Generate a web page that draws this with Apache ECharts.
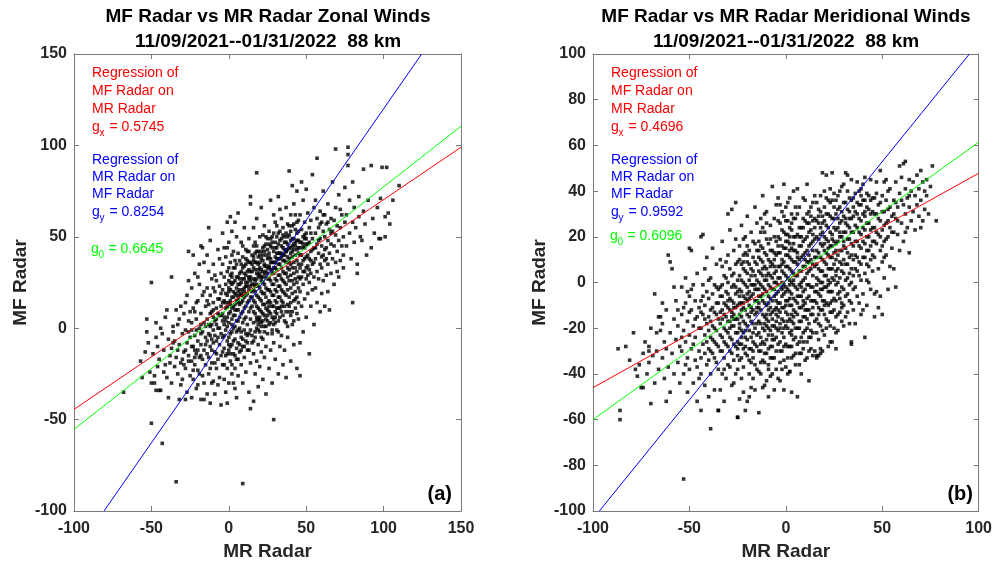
<!DOCTYPE html>
<html><head><meta charset="utf-8">
<script src="https://cdn.jsdelivr.net/npm/echarts@6/dist/echarts.min.js"></script>
<style>html,body{margin:0;padding:0;background:#fff}#c{width:995px;height:566px}</style>
</head><body><div id="c"></div>
<script>
// ---------------- DATA ----------------
const titlesLeft = ['MF Radar vs MR Radar Zonal Winds', '11/09/2021--01/31/2022  88 km'];
const titlesRight = ['MF Radar vs MR Radar Meridional Winds', '11/09/2021--01/31/2022  88 km'];
const xName = 'MR Radar';
const yName = 'MF Radar';
const panelLabels = ['(a)', '(b)'];
const noteRed = ['Regression of', 'MF Radar on', 'MR Radar'];
const noteBlue = ['Regression of', 'MR Radar on', 'MF Radar'];
const zonalGains = ['0.5745', '0.8254', '0.6645'];
const meridGains = ['0.4696', '0.9592', '0.6096'];
const zonalXRange = [-100, 150, 50];
const zonalYRange = [-100, 150, 50];
const meridXRange = [-100, 100, 50];
const meridYRange = [-100, 100, 20];

// regression line end points
const zonalRed = [[-100, -44.4], [150, 99]];
const zonalGreen = [[-100, -55.3], [150, 110.5]];
const zonalBlue = [[-80.6, -100], [124.6, 150]];
const meridRed = [[-100, -46], [100, 47.8]];
const meridGreen = [[-100, -60], [100, 61.4]];
const meridBlue = [[-96.7, -100], [95.2, 100]];

// scatter points [MR, MF] zonal
const zonalPts = [
[-68,-35],[-54,-13],[-53,5],[-50,25],[-50,-52],[-43,-63],[-34,-84],[9,-85],[29,-50],[46,-26],[14,-44],[-5,-42],[-18,-39],[-16,-39],[-28,-39],[-50,-30],[-47,-34],[-45,-34],[-37,28],[-26,42],[-18,45],[18,85],[39,86],[57,93],[69,98],[77,99],[77,95],[77,89],[92,89],[99,88],[102,88],[87,87],[110,78],[101,61],[101,50],[98,49],[92,44],[80,14],[83,30],[83,35],[65,10],[47,80],[1,61],[4,58],[14,72],[14,68],
[-57,-18],[-56,-27],
[-47,-5],[-46,-21],[-48,-30],[-52,-8],[-49,-14],[-46,-10],[-51,-24],[-47,3],[-45,-17],[-53,-2],[-48,-26],
[-44,-34],[-42,-12],[-41,-20],[-44,0],[-40,-27],[-39,-6],[-38,-15],[-37,-30],[-36,1],[-42,-24],[-40,10],[-38,-19],[-36,-8],[-43,-3],[-39,-38],[-37,-11],[-41,6],[-35,-21],[-36,-2],
[-34,-16],[-33,-25],[-33,2],[-32,-9],[-32,-39],[-31,-19],[-31,12],[-30,-3],[-30,-28],[-29,-13],[-29,8],[-28,-22],[-28,-1],[-27,-35],[-27,-8],[-27,18],[-26,-15],[-26,4],[-25,-26],[-25,-5],[-34,10],[-33,-12],[-31,-31],[-29,-20],[-28,14],[-26,-2],[-32,5],[-30,-17],[-25,9],[-35,-7],[-26,26],
[-24,-38],[-24,-18],[-24,3],[-24,22],[-23,-10],[-23,-28],[-23,11],[-22,-4],[-22,-20],[-22,30],[-21,-14],[-21,5],[-21,-33],[-20,-7],[-20,15],[-20,-23],[-19,0],[-19,-16],[-19,24],[-18,-9],[-18,8],[-17,-26],[-17,-2],[-17,18],[-16,-12],[-16,3],[-16,36],[-15,-20],[-15,-5],[-15,12],[-24,-1],[-23,40],[-22,9],[-21,-1],[-20,-31],[-19,35],[-18,2],[-17,-17],[-16,-30],[-23,-23],[-20,28],[-18,-3],[-16,20],[-22,-12],[-19,-25],[-15,1],[-21,14],[-17,44],
[-14,-36],[-14,-14],[-14,5],[-14,22],[-14,40],[-13,-25],[-13,-3],[-13,13],[-13,31],[-12,-41],[-12,-10],[-12,1],[-12,18],[-12,48],[-11,-19],[-11,-6],[-11,9],[-11,27],[-10,-29],[-10,-1],[-10,14],[-10,35],[-9,-13],[-9,4],[-9,20],[-9,-36],[-8,-22],[-8,-7],[-8,11],[-8,26],[-7,-17],[-7,0],[-7,16],[-7,43],[-6,-9],[-6,7],[-6,23],[-6,-27],[-5,-3],[-5,12],[-5,30],[-5,-15],[-14,-7],[-13,55],[-12,8],[-11,-30],[-10,22],[-9,-4],[-8,2],[-7,-31],[-6,38],[-14,15],[-12,-22],[-10,6],[-8,-14],[-6,0],[-13,-16],[-11,2],[-9,29],[-7,8],[-5,19],[-10,-8],
[-4,-20],[-4,-5],[-4,8],[-4,21],[-4,35],[-4,52],[-3,-28],[-3,-11],[-3,2],[-3,15],[-3,28],[-3,44],[-2,-35],[-2,-15],[-2,-1],[-2,11],[-2,24],[-2,39],[-1,-41],[-1,-22],[-1,-7],[-1,6],[-1,18],[-1,31],[-1,58],[0,-30],[0,-12],[0,3],[0,14],[0,26],[0,47],[1,-18],[1,-3],[1,9],[1,21],[1,36],[2,-25],[2,-9],[2,5],[2,17],[2,30],[2,53],[3,-14],[3,0],[3,12],[3,25],[3,42],[4,-33],[4,-6],[4,7],[4,19],[4,33],[-4,-13],[-3,6],[-2,19],[-1,-14],[0,8],[1,29],[2,-2],[3,20],[4,1],[-3,-20],[-1,44],[0,-5],[1,15],[2,40],[3,-30],[4,26],[-2,4],[0,33],[2,11],[4,-15],[-4,14],[-1,1],[1,-10],[3,7],[0,20],[2,24],[4,13],
[5,-38],[5,-17],[5,-2],[5,10],[5,22],[5,35],[5,50],[6,-26],[6,-8],[6,4],[6,16],[6,28],[6,41],[6,63],[7,-13],[7,0],[7,13],[7,24],[7,37],[8,-20],[8,-5],[8,8],[8,19],[8,31],[8,47],[9,-30],[9,-10],[9,3],[9,15],[9,27],[9,39],[10,-16],[10,-1],[10,11],[10,22],[10,34],[10,55],[11,-24],[11,-7],[11,6],[11,18],[11,29],[11,43],[12,-12],[12,2],[12,14],[12,25],[12,37],[13,-35],[13,-3],[13,9],[13,21],[13,32],[13,49],[14,-19],[14,5],[14,17],[14,28],[15,-8],[15,12],[15,24],[15,40],[5,4],[6,20],[7,30],[8,-12],[9,21],[10,5],[11,35],[12,19],[13,15],[14,36],[5,28],[6,-1],[7,6],[8,14],[9,45],[10,27],[11,12],[12,-4],[13,27],[14,11],[15,31],[7,18],[9,9],[11,23],[13,42],[15,17],[6,10],[8,25],[10,17],[12,31],[14,23],
[16,-40],[16,-14],[16,3],[16,15],[16,27],[16,39],[16,55],[17,-25],[17,-5],[17,8],[17,20],[17,32],[17,47],[18,-18],[18,0],[18,12],[18,24],[18,36],[18,60],[19,-9],[19,5],[19,17],[19,29],[19,42],[19,-32],[20,-21],[20,-2],[20,10],[20,22],[20,33],[20,50],[21,-13],[21,3],[21,15],[21,26],[21,38],[21,66],[22,-28],[22,-6],[22,8],[22,19],[22,31],[22,44],[23,-16],[23,1],[23,13],[23,24],[23,35],[23,56],[24,-36],[24,-10],[24,5],[24,17],[24,28],[24,40],[25,-3],[25,10],[25,21],[25,33],[25,49],[16,21],[17,36],[18,6],[19,23],[20,40],[21,9],[22,25],[23,30],[24,22],[25,14],[16,9],[17,14],[18,30],[19,11],[20,28],[21,32],[22,37],[23,7],[24,34],[25,27],[16,33],[18,18],[20,16],[22,13],[24,11],[17,26],[19,35],[21,20],[23,42],[25,38],[16,45],[18,42],[20,4],[22,51],[24,46],[19,-1],[21,-5],[23,19],[25,4],
[26,-22],[26,2],[26,15],[26,27],[26,39],[26,53],[27,-12],[27,8],[27,20],[27,32],[27,45],[27,70],[28,-30],[28,-3],[28,12],[28,24],[28,36],[28,50],[29,-8],[29,5],[29,18],[29,30],[29,42],[29,62],[30,-17],[30,9],[30,21],[30,33],[30,47],[31,-1],[31,14],[31,26],[31,38],[31,56],[32,-25],[32,4],[32,17],[32,29],[32,41],[32,72],[33,-10],[33,11],[33,23],[33,35],[33,48],[34,-4],[34,15],[34,27],[34,39],[34,60],[35,-20],[35,7],[35,20],[35,31],[35,44],[26,33],[27,26],[28,44],[29,24],[30,15],[31,32],[32,23],[33,29],[34,21],[35,37],[26,21],[28,18],[30,39],[32,35],[34,33],[27,38],[29,36],[31,20],[33,41],[35,26],[26,9],[28,30],[30,27],[32,11],[34,45],[27,14],[29,12],[31,44],[33,17],[35,51],[28,6],[30,3],[32,52],[34,9],[26,46],[30,58],[33,65],[31,8],
[36,-12],[36,12],[36,25],[36,37],[36,50],[37,-27],[37,3],[37,18],[37,30],[37,42],[37,66],[38,-5],[38,21],[38,33],[38,46],[38,57],[39,9],[39,26],[39,38],[39,51],[40,-18],[40,14],[40,29],[40,41],[40,62],[41,2],[41,19],[41,33],[41,45],[41,78],[42,-9],[42,24],[42,36],[42,49],[42,68],[43,11],[43,27],[43,40],[43,54],[44,-22],[44,17],[44,31],[44,43],[44,75],[45,5],[45,22],[45,35],[45,48],[45,59],[36,30],[37,47],[38,28],[39,17],[40,35],[41,26],[42,30],[43,20],[44,37],[45,41],[36,43],[38,39],[40,22],[42,43],[44,52],[37,36],[39,44],[41,39],[43,33],[45,28],[36,19],[40,48],[42,15],[44,25],[38,13],[41,56],[43,62],[39,32],[37,24],
[46,-8],[46,20],[46,33],[46,47],[46,62],[47,12],[47,28],[47,40],[47,54],[48,-2],[48,24],[48,37],[48,50],[48,70],[49,16],[49,31],[49,44],[49,58],[50,6],[50,27],[50,39],[50,52],[50,76],[51,19],[51,34],[51,46],[51,63],[52,-14],[52,25],[52,38],[52,55],[53,12],[53,30],[53,42],[53,59],[54,21],[54,35],[54,49],[54,84],[55,2],[55,28],[55,44],[55,66],[46,40],[47,35],[48,44],[49,38],[50,46],[51,29],[52,47],[53,37],[54,43],[55,36],[46,27],[49,51],[51,40],[53,52],[48,31],[50,33],[52,32],
[56,22],[56,38],[56,52],[56,70],[57,14],[57,31],[57,46],[57,60],[58,27],[58,41],[58,55],[59,9],[59,35],[59,49],[59,64],[60,19],[60,33],[60,45],[60,58],[61,26],[61,40],[61,53],[61,75],[62,12],[62,37],[62,50],[62,62],[63,29],[63,44],[63,57],[64,20],[64,35],[64,48],[64,68],[65,41],[65,54],[56,44],[58,48],[60,39],[62,43],[64,58],[59,57],[63,38],[61,62],
[66,30],[66,46],[66,60],[67,38],[67,53],[67,80],[68,24],[68,45],[68,59],[69,36],[69,51],[69,66],[70,42],[70,56],[71,28],[71,48],[71,73],[72,37],[72,55],[73,45],[73,62],[74,33],[74,50],[75,58],[75,77],[66,52],[70,31],[72,65],[74,40],
[76,45],[76,62],[78,52],[78,70],[79,38],[80,58],[81,47],[81,66],[82,55],[84,61],[84,72],[85,50],[80,80],
[86,48],[87,64],[88,57],[89,40],[90,70],[93,60],[94,52],[96,66],[97,49],[98,71],[104,57],[106,70],[103,63],
[0,22],[1,25],[2,28],[3,33],[4,37],[5,18],[6,24],[7,27],[8,35],[9,33],[10,30],[11,38],[12,42],[13,36],[14,31],[15,35],[16,37],[17,41],[18,45],[19,39],[20,36],[21,42],[22,40],[23,45],[24,50],[25,43],[26,41],[27,49],[28,47],[29,52],[30,44],[31,50],[32,46],[33,53],[34,49],[35,55],[36,47],[37,52],[38,50],[39,56],[40,53],[41,49],[42,57],[43,47],[44,58],[45,53],
[0,-9],[1,-14],[2,-20],[3,-7],[4,-22],[5,-11],[6,-17],[7,-9],[8,-2],[9,-6],[10,-10],[11,-3],[12,-8],[13,-12],[14,-1],[15,-4],[16,-7],[17,-2],[18,4],[19,2],[20,6],[21,1],[22,4],[23,-2],[24,1],[25,7],[26,12],[27,3],[28,-1],[29,2],[30,6],[31,11],[32,-2],[33,6],[34,12],[35,14],[36,4],[37,9],[38,1],[39,12],[40,7],[41,9],[42,4],[43,16],[44,8],[45,14],
[2,2],[4,10],[6,14],[8,18],[10,20],[12,23],[14,26],[16,24],[18,27],[20,30],[22,28],[24,31],[26,34],[28,32],[30,36],[32,38],[34,41],[36,40],[38,43],[40,44],[42,46],[44,48],[46,44],[48,46],[50,49],
[1,13],[3,17],[5,15],[7,21],[9,18],[11,25],[13,28],[15,20],[17,23],[19,32],[21,28],[23,34],[25,30],[27,36],[29,33],[31,41],[33,38],[35,40],[37,42],[39,36],[41,42],[43,45],[45,44],[47,47],[49,49],
[-10,10],[-8,5],[-6,16],[-4,4],[-2,14],[-12,-4],[-9,-19],[-7,-5],[-5,7],[-3,-4],[-1,12],[-15,-9],[-13,2],[-11,-12],[-20,-12],[-18,-15],[-22,-16],[-24,-10],[-26,-18],[-28,-12]
];

// scatter points [MR, MF] meridional
const meridPts = [
[-87,-29],[-83,-28],[-81,-34],[-86,-56],[-86,-60],[-76,-36],[-75,-46],[-79,-22],[-77,-41],[-78,-38],
[-74,-46],[-71,-35],[-71,-30],[-71,-28],[-70,-53],[-70,-20],[-69,-32],[-68,-5],[-67,-30],[-67,-22],[-66,-15],[-66,-38],[-73,-26],[-72,-40],[-68,-44],[-65,-21],[-74,-31],[-65,-15],
[-64,-18],[-64,-33],[-63,-26],[-63,-42],[-62,-12],[-62,-29],[-61,12],[-61,-37],[-60,9],[-60,-22],[-60,-48],[-59,6],[-59,-31],[-58,-16],[-58,-40],[-57,-25],[-57,-8],[-56,-35],[-56,-19],[-55,-44],[-55,-28],[-64,-9],[-62,-52],[-58,-2],[-56,-12],
[-54,-30],[-54,-14],[-54,-2],[-53,-86],[-53,-40],[-53,-21],[-52,2],[-52,-26],[-52,-9],[-51,-48],[-51,-33],[-51,-17],[-50,15],[-50,-38],[-50,-23],[-50,-6],[-49,14],[-49,-29],[-49,-12],[-48,-44],[-48,-19],[-48,-1],[-47,-34],[-47,-24],[-47,-8],[-46,-52],[-46,-15],[-46,4],[-45,-30],[-45,-20],[-45,-11],[-54,-24],[-52,-36],[-50,-13],[-48,-27],[-46,-37],[-53,-11],[-49,-3],[-47,-16],[-45,-42],[-51,-4],
[-44,-56],[-44,-33],[-44,-20],[-44,-8],[-44,20],[-43,-27],[-43,-14],[-43,-1],[-43,21],[-42,-45],[-42,-23],[-42,-10],[-42,6],[-41,-36],[-41,-18],[-41,-4],[-41,11],[-40,-29],[-40,-15],[-40,-7],[-40,-50],[-39,-40],[-39,-24],[-39,-12],[-39,2],[-39,-64],[-38,-31],[-38,-19],[-38,-5],[-38,15],[-37,-47],[-37,-26],[-37,-13],[-37,-1],[-36,-35],[-36,-21],[-36,-9],[-36,8],[-35,-56],[-35,-28],[-35,-16],[-35,-3],[-44,-40],[-43,-6],[-42,-16],[-41,-26],[-40,-21],[-40,1],[-39,-30],[-39,-17],[-38,-11],[-37,-33],[-37,-20],[-36,-14],[-36,-27],[-35,-9],[-35,-38],[-42,-31],[-38,-25],[-44,-13],[-40,-34],[-36,-2],
[-34,-47],[-34,-30],[-34,-18],[-34,-6],[-34,10],[-33,-40],[-33,-24],[-33,-12],[-33,-1],[-33,18],[-32,-33],[-32,-20],[-32,-9],[-32,3],[-32,-52],[-31,-27],[-31,-15],[-31,-4],[-31,9],[-31,-42],[-30,-36],[-30,-22],[-30,-11],[-30,0],[-30,30],[-29,-30],[-29,-17],[-29,-7],[-29,6],[-29,23],[-28,-45],[-28,-25],[-28,-13],[-28,-2],[-28,32],[-27,-34],[-27,-19],[-27,-9],[-27,4],[-27,14],[-26,-28],[-26,-16],[-26,-5],[-26,19],[-26,35],[-25,-59],[-25,-38],[-25,-22],[-25,-10],[-25,1],[-34,-23],[-33,-16],[-32,-26],[-31,-10],[-30,-17],[-29,-24],[-28,-8],[-27,-27],[-26,-11],[-25,-16],[-34,-13],[-33,-6],[-32,-14],[-31,-21],[-30,-5],[-29,-12],[-28,-19],[-27,-14],[-26,-22],[-25,-4],[-34,-2],[-32,-38],[-30,-28],[-28,-31],[-26,-40],[-33,-30],[-31,2],[-29,-37],[-27,-1],[-25,9],[-33,7],[-30,12],[-27,-44],[-25,-29],[-35,-56],
[-24,-51],[-24,-34],[-24,-20],[-24,-9],[-24,3],[-24,16],[-23,-42],[-23,-27],[-23,-15],[-23,-4],[-23,8],[-23,25],[-22,-37],[-22,-22],[-22,-11],[-22,0],[-22,12],[-22,-48],[-21,-31],[-21,-18],[-21,-7],[-21,5],[-21,20],[-21,-56],[-20,-52],[-20,-25],[-20,-14],[-20,-2],[-20,9],[-20,29],[-19,-40],[-19,-29],[-19,-10],[-19,1],[-19,14],[-19,-21],[-18,-35],[-18,-17],[-18,-6],[-18,6],[-18,22],[-18,-46],[-17,-26],[-17,-12],[-17,-1],[-17,11],[-17,-33],[-16,-47],[-16,-20],[-16,-8],[-16,3],[-16,17],[-16,33],[-15,-38],[-15,-23],[-15,-13],[-15,-3],[-15,8],[-15,26],[-24,-14],[-23,-21],[-22,-6],[-21,-12],[-20,-19],[-19,-15],[-18,-11],[-17,-5],[-16,-14],[-15,-8],[-24,-27],[-23,-9],[-22,-29],[-21,-1],[-20,-8],[-19,-4],[-18,-24],[-17,-18],[-16,-27],[-15,-18],[-24,-3],[-23,1],[-22,6],[-21,-24],[-20,4],[-19,8],[-18,-1],[-17,5],[-16,-3],[-15,1],[-22,-17],[-20,-32],[-18,-29],[-16,-36],[-23,-33],[-19,-50],[-17,-42],[-21,13],[-17,18],[-15,14],[-24,10],[-20,16],[-22,19],[-25,-59],
[-14,-57],[-14,-30],[-14,-17],[-14,-6],[-14,5],[-14,18],[-13,-40],[-13,-24],[-13,-12],[-13,-1],[-13,10],[-13,28],[-12,-34],[-12,-20],[-12,-8],[-12,3],[-12,15],[-12,38],[-11,-45],[-11,-27],[-11,-15],[-11,-3],[-11,7],[-11,22],[-10,-31],[-10,-19],[-10,-10],[-10,1],[-10,12],[-10,31],[-9,-50],[-9,-36],[-9,-23],[-9,-6],[-9,4],[-9,17],[-8,-28],[-8,-14],[-8,-2],[-8,9],[-8,25],[-8,-41],[-7,-33],[-7,-19],[-7,-8],[-7,2],[-7,14],[-7,42],[-6,-25],[-6,-12],[-6,0],[-6,7],[-6,20],[-6,-47],[-5,-38],[-5,-17],[-5,-5],[-5,5],[-5,12],[-5,34],[-14,-11],[-13,-6],[-12,-14],[-11,-9],[-10,-4],[-9,-12],[-8,-7],[-7,-13],[-6,-6],[-5,-11],[-14,0],[-13,4],[-12,-2],[-11,1],[-10,6],[-9,-1],[-8,3],[-7,-3],[-6,4],[-5,0],[-14,-22],[-13,-18],[-12,-26],[-11,-21],[-10,-25],[-9,-17],[-8,-21],[-7,-25],[-6,-19],[-5,-24],[-14,11],[-13,16],[-12,9],[-11,13],[-10,19],[-9,10],[-8,14],[-7,8],[-6,13],[-5,18],[-13,-30],[-11,-35],[-9,-29],[-7,-40],[-5,-30],[-12,24],[-10,26],[-8,-33],[-6,28],[-14,-39],[-10,-43],[-6,-33],[-12,-46],[-8,19],[-11,30],[-13,22],[-9,-9],[-7,-16],[-5,-8],[-14,-3],[-10,-14],
[-4,-42],[-4,-27],[-4,-15],[-4,-4],[-4,7],[-4,20],[-4,37],[-3,-35],[-3,-20],[-3,-9],[-3,2],[-3,13],[-3,26],[-2,-30],[-2,-16],[-2,-6],[-2,5],[-2,16],[-2,31],[-1,-47],[-1,-24],[-1,-11],[-1,-1],[-1,9],[-1,22],[-1,43],[0,-37],[0,-19],[0,-8],[0,3],[0,12],[0,27],[1,-28],[1,-14],[1,-3],[1,7],[1,18],[1,35],[2,-39],[2,-22],[2,-10],[2,1],[2,11],[2,24],[2,-28],[3,-33],[3,-17],[3,-5],[3,5],[3,15],[3,30],[4,-25],[4,-12],[4,-1],[4,9],[4,20],[4,40],[-4,-9],[-3,-13],[-2,-11],[-1,-5],[0,-2],[1,-8],[2,-4],[3,-10],[4,-7],[-4,2],[-3,7],[-2,0],[-1,4],[0,7],[1,2],[2,6],[3,0],[4,4],[-4,13],[-3,19],[-2,10],[-1,15],[0,18],[1,12],[2,17],[3,10],[4,14],[-4,-21],[-3,-26],[-2,-22],[-1,-17],[0,-13],[1,-20],[2,-16],[3,-23],[4,-18],[-4,27],[-2,23],[0,33],[2,37],[4,28],[-3,-43],[-1,-34],[1,-40],[3,-48],[-2,-38],[0,-27],[4,-32],[-3,34],[1,27],[3,23],[-1,29],[0,-4],[2,-1],[-4,-1],[4,1],[-2,-2],[1,21],[3,-14],[0,21],[2,14],[2,-39],
[5,-36],[5,-20],[5,-8],[5,3],[5,14],[5,28],[6,-50],[6,-27],[6,-14],[6,-3],[6,8],[6,21],[6,41],[7,-31],[7,-17],[7,-6],[7,5],[7,16],[7,33],[8,-24],[8,-11],[8,0],[8,11],[8,24],[8,-40],[9,-29],[9,-15],[9,-4],[9,7],[9,18],[9,37],[10,-34],[10,-21],[10,-9],[10,2],[10,13],[10,27],[11,-26],[11,-12],[11,-1],[11,9],[11,20],[11,43],[12,-43],[12,-30],[12,-18],[12,-6],[12,5],[12,16],[12,31],[13,-29],[13,-14],[13,-2],[13,10],[13,23],[14,-32],[14,-22],[14,-8],[14,3],[14,14],[14,35],[15,-17],[15,-4],[15,7],[15,19],[15,28],[5,-2],[6,3],[7,-1],[8,5],[9,1],[10,7],[11,4],[12,9],[13,6],[14,8],[5,9],[6,13],[7,10],[8,16],[9,12],[10,19],[11,14],[12,22],[13,17],[14,21],[5,-13],[6,-9],[7,-11],[8,-6],[9,-10],[10,-3],[11,-7],[12,-12],[13,-8],[14,-2],[5,20],[7,24],[9,28],[11,30],[13,33],[15,38],[6,-20],[8,-17],[10,-15],[12,-24],[14,-14],[7,-26],[9,-22],[11,-20],[13,-21],[15,-30],[6,30],[10,36],[14,27],[15,11],[8,-31],[12,26],[16,-32],[18,-31],
[16,-33],[16,-16],[16,-4],[16,8],[16,20],[16,35],[17,-25],[17,-11],[17,1],[17,13],[17,26],[17,-32],[18,-29],[18,-19],[18,-6],[18,5],[18,17],[18,31],[19,-12],[19,0],[19,10],[19,22],[19,48],[20,-23],[20,-8],[20,3],[20,14],[20,27],[20,40],[21,-16],[21,-2],[21,8],[21,19],[21,47],[22,-28],[22,-10],[22,1],[22,12],[22,24],[22,36],[23,-19],[23,-4],[23,6],[23,16],[23,29],[24,-26],[24,-13],[24,2],[24,11],[24,21],[24,48],[25,-7],[25,8],[25,18],[25,33],[16,-9],[17,6],[18,11],[19,-3],[20,9],[21,13],[22,6],[23,11],[24,16],[25,13],[16,14],[17,19],[18,24],[19,16],[20,20],[21,25],[22,18],[23,22],[24,28],[25,24],[16,2],[17,-5],[18,0],[19,5],[20,-2],[21,3],[22,-4],[23,0],[24,6],[25,1],[16,27],[18,38],[20,33],[22,30],[24,36],[17,32],[19,29],[21,37],[23,41],[25,39],[16,-22],[18,-12],[20,-14],[22,-17],[24,-8],[17,-18],[19,-21],[21,-9],[23,-13],[25,-20],[19,-30],[23,-26],
[26,-22],[26,-8],[26,5],[26,17],[26,30],[26,-29],[27,-14],[27,0],[27,12],[27,24],[27,38],[28,-4],[28,9],[28,20],[28,33],[29,-17],[29,-2],[29,14],[29,27],[29,42],[30,-10],[30,4],[30,16],[30,29],[30,-19],[31,-6],[31,8],[31,22],[31,35],[31,48],[32,-13],[32,2],[32,13],[32,25],[32,40],[33,-1],[33,11],[33,19],[33,31],[34,-27],[34,-9],[34,6],[34,17],[34,28],[34,45],[35,-3],[35,10],[35,22],[35,37],[26,10],[27,18],[28,14],[29,8],[30,22],[31,15],[32,19],[33,24],[34,12],[35,16],[26,23],[27,28],[28,26],[29,20],[30,35],[31,28],[32,32],[33,37],[34,22],[35,29],[26,-1],[27,6],[28,2],[29,5],[30,-3],[31,1],[32,-5],[33,4],[34,0],[35,3],[26,36],[28,40],[30,43],[32,47],[34,36],[27,-21],[29,-11],[31,-15],[33,-8],[35,-12],[28,-13],[30,10],[32,8],[26,-15],[33,-18],[34,-26],
[36,-18],[36,-2],[36,12],[36,25],[36,39],[37,5],[37,18],[37,30],[37,44],[38,-9],[38,9],[38,22],[38,34],[39,-14],[39,1],[39,15],[39,27],[39,41],[40,-5],[40,11],[40,24],[40,36],[41,-24],[41,4],[41,17],[41,29],[41,46],[42,-10],[42,8],[42,20],[42,33],[43,0],[43,14],[43,26],[43,38],[44,-3],[44,10],[44,23],[44,45],[45,5],[45,18],[45,31],[36,18],[37,24],[38,16],[39,21],[40,18],[41,23],[42,26],[43,20],[44,30],[45,24],[36,6],[37,-6],[38,28],[39,8],[40,30],[41,11],[42,14],[43,7],[44,16],[45,12],[36,31],[38,40],[40,43],[42,39],[44,36],[37,11],[39,34],[41,36],[43,32],[45,37],[38,3],[40,-12],[42,1],
[46,-15],[46,-5],[46,11],[46,24],[46,37],[47,17],[47,30],[47,44],[48,-11],[48,6],[48,21],[48,34],[49,-6],[49,14],[49,27],[49,49],[50,-14],[50,9],[50,23],[50,38],[51,2],[51,18],[51,31],[51,44],[52,12],[52,26],[52,36],[53,-3],[53,20],[53,32],[54,7],[54,24],[54,41],[55,15],[55,29],[46,30],[47,22],[48,28],[49,20],[50,31],[51,25],[52,19],[53,27],[54,33],[55,22],[47,39],[49,35],[51,11],[53,40],[46,18],[50,16],[52,45],[47,-4],
[56,6],[56,22],[56,36],[57,-2],[57,28],[57,44],[58,21],[58,33],[59,14],[59,39],[59,51],[60,26],[60,46],[61,18],[61,34],[61,52],[62,30],[62,41],[62,53],[63,24],[63,37],[64,13],[64,33],[64,45],[65,27],[65,40],[56,30],[58,27],[60,36],[62,22],[64,38],[57,35],
[66,31],[66,44],[67,23],[67,38],[68,34],[68,47],[69,29],[69,41],[70,24],[70,36],[71,27],[71,44],[72,32],[72,40],[73,38],[74,30],[75,42],[76,51],[78,27],[73,45],[70,49],
[-30,-8],[-28,-15],[-26,-2],[-24,-18],[-22,-9],[-20,-5],[-18,-13],[-16,-1],[-14,-9],[-12,-5],[-10,-16],[-8,-11],[-6,-3],[-4,-12],[-2,-3],[0,-10],[2,-7],[4,-15],[6,-6],[8,-2],[10,-12],[12,-1],[14,-11],[16,-1],[18,-3],[20,-10],[22,-1],[24,-4],[26,3],[28,-7],
[-29,-20],[-27,-11],[-25,-26],[-23,-12],[-21,-21],[-19,-7],[-17,-22],[-15,-11],[-13,-27],[-11,-18],[-9,-20],[-7,-23],[-5,-14],[-3,-18],[-1,-20],[1,-17],[3,-21],[5,-24],[7,-20],[9,-8],[11,-16],[13,-24],[15,-8],[17,-14],[19,-8],[21,-20],[23,-9],[25,-12],[27,-5],[29,-9],
[-28,3],[-26,8],[-24,-6],[-22,9],[-20,12],[-18,3],[-16,9],[-14,14],[-12,6],[-10,3],[-8,7],[-6,10],[-4,16],[-2,8],[0,15],[2,20],[4,17],[6,11],[8,20],[10,10],[12,12],[14,18],[16,11],[18,21],[20,17],[22,15],[24,19],[26,14],[28,22],[30,18],
[-27,-16],[-25,-32],[-23,-24],[-21,-28],[-19,-34],[-17,-30],[-15,-28],[-13,-35],[-11,-31],[-9,-38],[-7,-28],[-5,-20],[-3,-30],[-1,-28],[1,-33],[3,-28],[5,-31],[7,-36],[9,-26],[11,-33],
[3,26],[5,33],[7,20],[9,24],[11,26],[13,29],[15,24],[17,29],[19,26],[21,30],[23,35],[25,28],[27,32],[29,31],[31,26],[33,28],[35,33],[37,35],[39,38],[41,31]
];

// ---------------- CHART ----------------
const FONT = '"Liberation Sans", Arial, Helvetica, sans-serif';
const AXC = '#7a7a7a';
const LBL = '#262626';
const chart = echarts.init(document.getElementById('c'), null, { renderer: 'canvas' });

function xAxisDef(gi, r, pos) {
  const main = pos === 'bottom';
  return {
    type: 'value', gridIndex: gi, position: pos, min: r[0], max: r[1], interval: r[2],
    name: main ? xName : '', nameLocation: 'middle', nameGap: 31,
    nameTextStyle: { fontFamily: FONT, fontWeight: 'bold', fontSize: 19, color: LBL },
    axisLine: { show: true, onZero: false, lineStyle: { color: AXC, width: 1 } },
    axisTick: { show: true, inside: true, length: 5, lineStyle: { color: AXC } },
    axisLabel: { show: main, margin: 10, fontFamily: FONT, fontWeight: 'bold', fontSize: 16, color: LBL },
    splitLine: { show: false }
  };
}
function yAxisDef(gi, r, pos) {
  const main = pos === 'left';
  return {
    type: 'value', gridIndex: gi, position: pos, min: r[0], max: r[1], interval: r[2],
    name: main ? yName : '', nameLocation: 'middle', nameRotate: 90, nameGap: 44,
    nameTextStyle: { fontFamily: FONT, fontWeight: 'bold', fontSize: 19, color: LBL },
    axisLine: { show: true, onZero: false, lineStyle: { color: AXC, width: 1 } },
    axisTick: { show: true, inside: true, length: 5, lineStyle: { color: AXC } },
    axisLabel: { show: main, margin: 7, fontFamily: FONT, fontWeight: 'bold', fontSize: 16, color: LBL },
    splitLine: { show: false }
  };
}
function scatter(xi, yi, pts) {
  return { type: 'scatter', xAxisIndex: xi, yAxisIndex: yi, data: pts, symbol: 'rect', symbolSize: 3.6,
    itemStyle: { color: '#000' }, silent: true, z: 2 };
}
function line(xi, yi, pts, color) {
  return { type: 'line', xAxisIndex: xi, yAxisIndex: yi, data: pts, symbol: 'none',
    lineStyle: { color: color, width: 1 }, silent: true, z: 3 };
}
function txt(x, y, s, color, size, weight, align) {
  return { type: 'text', x: x, y: y, z: 10, silent: true,
    style: { text: s, fill: color, font: (weight || 'normal') + ' ' + size + 'px ' + FONT,
      align: align || 'left', verticalAlign: 'middle', textAlign: align || 'left', textVerticalAlign: 'middle' } };
}
function gLine(x, y, sub, val, color) {
  return [txt(x, y, 'g', color, 14), txt(x + 7.6, y + 6, sub, color, 10), txt(x + 13.5, y, ' = ' + val, color, 14)];
}
function notes(x, gains, yGreen) {
  let g = [];
  const ys = [73, 91, 109];
  noteRed.forEach((s, i) => g.push(txt(x, ys[i], s, '#ff0000', 14)));
  g = g.concat(gLine(x, 127, 'x', gains[0], '#ff0000'));
  const yb = [160, 177, 194];
  noteBlue.forEach((s, i) => g.push(txt(x, yb[i], s, '#0000ff', 14)));
  g = g.concat(gLine(x, 212, 'y', gains[1], '#0000ff'));
  g = g.concat(gLine(x - 1, yGreen, '0', gains[2], '#00ff00'));
  return g;
}

let graphics = [];
graphics.push(txt(268, 17, titlesLeft[0], '#000', 19, 'bold', 'center'));
graphics.push(txt(268, 42, titlesLeft[1], '#000', 19, 'bold', 'center'));
graphics.push(txt(786, 17, titlesRight[0], '#000', 19, 'bold', 'center'));
graphics.push(txt(786, 42, titlesRight[1], '#000', 19, 'bold', 'center'));
graphics = graphics.concat(notes(92, zonalGains, 249));
graphics = graphics.concat(notes(611, meridGains, 236));
graphics.push(txt(452, 494, panelLabels[0], '#000', 20, 'bold', 'right'));
graphics.push(txt(973, 494, panelLabels[1], '#000', 20, 'bold', 'right'));

chart.setOption({
  animation: false,
  backgroundColor: '#fff',
  grid: [
    { left: 74, top: 54, width: 387, height: 459 },
    { left: 593, top: 54, width: 387, height: 459 }
  ],
  xAxis: [xAxisDef(0, zonalXRange, 'bottom'), xAxisDef(0, zonalXRange, 'top'),
          xAxisDef(1, meridXRange, 'bottom'), xAxisDef(1, meridXRange, 'top')],
  yAxis: [yAxisDef(0, zonalYRange, 'left'), yAxisDef(0, zonalYRange, 'right'),
          yAxisDef(1, meridYRange, 'left'), yAxisDef(1, meridYRange, 'right')],
  series: [
    scatter(0, 0, zonalPts),
    line(0, 0, zonalRed, '#ff0000'), line(0, 0, zonalGreen, '#00ff00'), line(0, 0, zonalBlue, '#0000ff'),
    scatter(2, 2, meridPts),
    line(2, 2, meridRed, '#ff0000'), line(2, 2, meridGreen, '#00ff00'), line(2, 2, meridBlue, '#0000ff')
  ],
  graphic: graphics
});
</script></body></html>
